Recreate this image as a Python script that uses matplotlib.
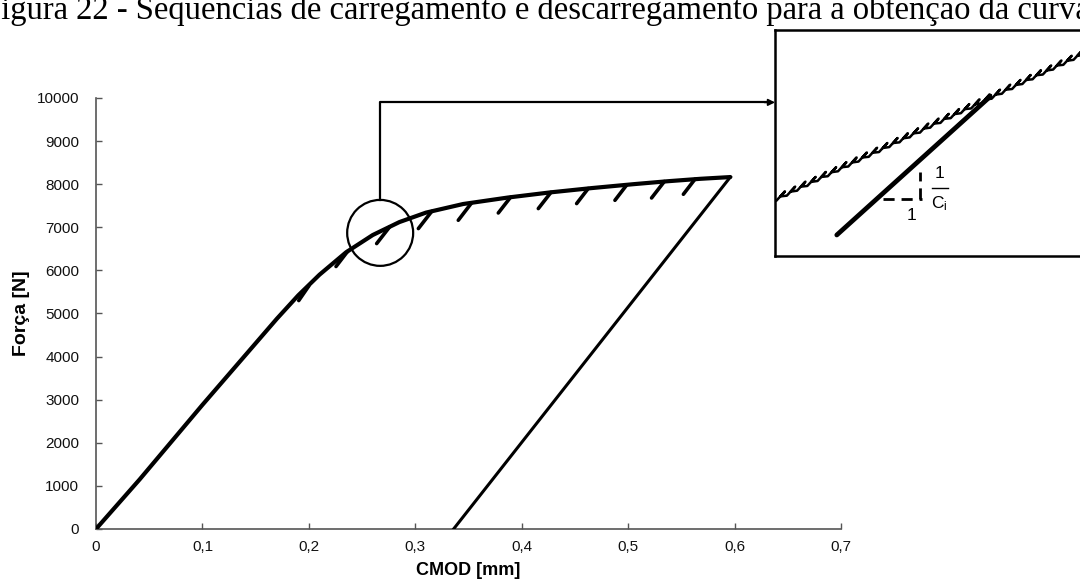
import matplotlib
matplotlib.use("Agg")
import matplotlib.pyplot as plt
from matplotlib.patches import Ellipse

plt.rcParams['font.family'] = ['Liberation Sans', 'DejaVu Sans']

# ---- load envelope (CMOD [mm], force [N]) ----
env_x = [0.0, 0.041, 0.100, 0.170, 0.190, 0.210, 0.235, 0.260, 0.285,
         0.310, 0.345, 0.387, 0.427, 0.466, 0.505, 0.537, 0.568, 0.596]
env_F = [0, 1150, 2880, 4880, 5420, 5900, 6420, 6820, 7120,
         7340, 7540, 7690, 7810, 7910, 8000, 8068, 8125, 8165]

# final unloading branch
unload_x = [0.596, 0.336]
unload_F = [8165, 0]

# partial unload/reload cycles: lowest point and return point on the envelope
cyc_x_low = [0.1905, 0.2255, 0.2637, 0.3029, 0.3404, 0.3780, 0.4156, 0.4516, 0.4876, 0.5220, 0.5519]
cyc_F_low = [5300, 6090, 6622, 6970, 7163, 7332, 7434, 7550, 7626, 7680, 7766]
cyc_x_top = [0.2000, 0.2365, 0.2760, 0.3155, 0.3530, 0.3895, 0.4275, 0.4625, 0.4988, 0.5340, 0.5628]
cyc_F_top = [5640, 6444, 7012, 7371, 7569, 7697, 7811, 7900, 7987, 8062, 8116]

x_ticks = [0.0, 0.1, 0.2, 0.3, 0.4, 0.5, 0.6, 0.7]
x_labels = ['0', '0,1', '0,2', '0,3', '0,4', '0,5', '0,6', '0,7']
y_ticks = [0, 1000, 2000, 3000, 4000, 5000, 6000, 7000, 8000, 9000, 10000]
y_labels = [str(v) for v in y_ticks]

# highlighted region and its callout
focus_x, focus_F = 0.267, 6870
focus_w, focus_h = 0.062, 1530
callout_F = 9898
callout_x_end = 0.638

# detail view (normalised coordinates of the zoomed sketch)
tooth_x = [0.005, 0.037, 0.069, 0.101, 0.133, 0.165, 0.197, 0.229, 0.261, 0.293,
           0.325, 0.357, 0.389, 0.421, 0.453, 0.485, 0.517, 0.549, 0.581, 0.613,
           0.645, 0.677, 0.709, 0.741, 0.773, 0.805, 0.837, 0.869, 0.901, 0.933, 0.965]
tooth_y = [0.262, 0.283, 0.305, 0.326, 0.348, 0.369, 0.391, 0.412, 0.434, 0.455,
           0.476, 0.498, 0.519, 0.541, 0.562, 0.584, 0.605, 0.626, 0.648, 0.669,
           0.691, 0.712, 0.734, 0.755, 0.777, 0.798, 0.819, 0.841, 0.862, 0.884, 0.905]
tooth_dx = [0.0, 0.026, 0.012]
tooth_dy = [-0.016, 0.024, 0.002]

strand_x = [[0.193, 0.672], [0.300, 0.662], [0.420, 0.675]]
strand_y = [[0.093, 0.705], [0.232, 0.692], [0.385, 0.712]]
strand_w = [3.4, 1.8, 1.8]

fig = plt.figure(figsize=(10.8, 5.86), dpi=100)
ax = fig.add_axes([0.0889, 0.0973, 0.6898, 0.7355])

ax.plot(env_x, env_F, color='black', lw=3.0, solid_capstyle='round', solid_joinstyle='round', zorder=3)
ax.plot(unload_x, unload_F, color='black', lw=2.2, zorder=3)
for x0, f0, x1, f1 in zip(cyc_x_low, cyc_F_low, cyc_x_top, cyc_F_top):
    ax.plot([x0, x1], [f0, f1], color='black', lw=2.6, solid_capstyle='round', zorder=3)

ax.add_patch(Ellipse((focus_x, focus_F), focus_w, focus_h, fill=False,
                     edgecolor='black', lw=1.6, zorder=4, clip_on=False))
ax.plot([focus_x, focus_x, callout_x_end - 0.006], [focus_F + focus_h / 2, callout_F, callout_F],
        color='black', lw=1.6, clip_on=False, zorder=4)
ax.annotate('', xy=(callout_x_end, callout_F), xytext=(callout_x_end - 0.01, callout_F),
            arrowprops=dict(arrowstyle='-|>', color='black', lw=1.2,
                            mutation_scale=10, shrinkA=0, shrinkB=0),
            annotation_clip=False)

ax.set_xlim(0, 0.7)
ax.set_ylim(0, 10000)
ax.set_xticks(x_ticks)
ax.set_xticklabels(x_labels)
ax.set_yticks(y_ticks)
ax.set_yticklabels(y_labels)
ax.tick_params(direction='in', length=4, width=1.0, color='#555555', labelsize=11,
               labelcolor='#111111')
ax.tick_params(axis='x', pad=8)
ax.tick_params(axis='y', pad=12)
for side in ('top', 'right'):
    ax.spines[side].set_visible(False)
for side in ('left', 'bottom'):
    ax.spines[side].set_color('#555555')
    ax.spines[side].set_linewidth(1.2)
ax.set_xlabel('CMOD [mm]', fontsize=13, fontweight='bold', labelpad=6)
ax.set_ylabel('Força [N]', fontsize=14, fontweight='bold', labelpad=5)

# zoomed detail box
ins = fig.add_axes([0.7176, 0.5631, 0.2963, 0.3857])
ins.set_xlim(0, 1)
ins.set_ylim(0, 1)
ins.set_xticks([])
ins.set_yticks([])
for s in ins.spines.values():
    s.set_linewidth(1.8)
    s.set_color('black')

saw_x, saw_y = [], []
for tx, ty in zip(tooth_x, tooth_y):
    for dx, dy in zip(tooth_dx, tooth_dy):
        saw_x.append(tx + dx)
        saw_y.append(ty + dy)
ins.plot(saw_x, saw_y, color='black', lw=1.8, solid_joinstyle='round')

for sx, sy, w in zip(strand_x, strand_y, strand_w):
    ins.plot(sx, sy, color='black', lw=w, solid_capstyle='round')

ins.plot([0.338, 0.458], [0.251, 0.251], color='black', lw=2.0, dashes=(4, 2.5))
ins.plot([0.453, 0.453], [0.251, 0.373], color='black', lw=2.0, dashes=(4, 2.5))
ins.plot([0.490, 0.540], [0.300, 0.300], color='black', lw=1.0)
ins.text(0.427, 0.180, '1', ha='center', va='center', fontsize=12.5)
ins.text(0.515, 0.365, '1', ha='center', va='center', fontsize=12.5)
ins.text(0.514, 0.232, r'$\mathregular{C_i}$', ha='center', va='center', fontsize=12.5)

fig.text(-0.016, 0.9676,
         'Figura 22 - Sequências de carregamento e descarregamento para a obtenção da curva',
         family='Liberation Serif', fontsize=23.5, ha='left', va='baseline')

fig.savefig('out.png', dpi=100, facecolor='white')
